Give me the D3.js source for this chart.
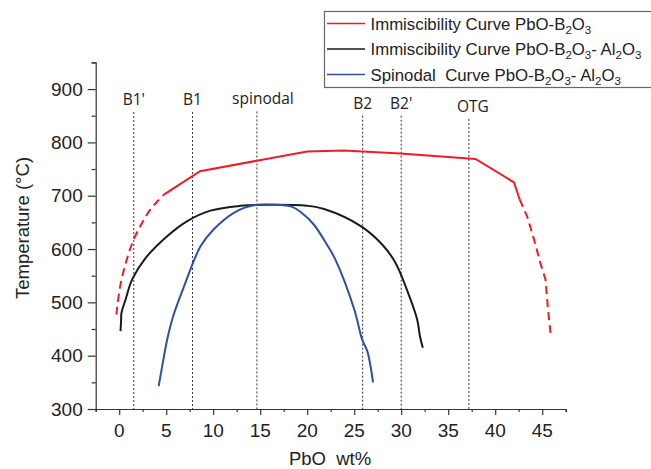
<!DOCTYPE html>
<html>
<head>
<meta charset="utf-8">
<script src="https://cdn.jsdelivr.net/npm/d3@7"></script>
<style>
  body { margin: 0; background: #fff; }
  svg { display: block; font-family: "Liberation Sans", Arial, sans-serif; }
</style>
</head>
<body>
<div id="vis"></div>
<script>
// ---- data (PbO wt%, temperature °C) ----
const redDashLeft = [[-0.3, 477], [0.1, 530], [0.8, 580], [1.55, 618], [2.4, 648], [3.3, 674], [4.1, 690], [4.75, 702]];
const redSolid = [[4.75, 702], [8.6, 746], [20, 783], [23.9, 785], [29.9, 779], [37.9, 769], [42, 725], [42.6, 693]];
const redDashRight = [[42.6, 693], [43.4, 661], [44.1, 620], [44.8, 574], [45.35, 543], [45.6, 490], [45.9, 440]];

const blackCurve = [[0.14, 446], [0.2, 465], [0.24, 480], [0.67, 505], [1.38, 543], [2.8, 583], [5.1, 624], [7.2, 652],
  [9.7, 672], [12.9, 681], [15.7, 683], [20, 681], [21.8, 675], [25.7, 643], [28, 608], [29.4, 574],
  [30.6, 524], [31.7, 468], [32, 436], [32.3, 415]];

const blueCurve = [[4.2, 343], [4.57, 380], [5.1, 430], [5.74, 474], [6.9, 530], [8.65, 605], [10.06, 637],
  [12.2, 668], [14.3, 682], [16.4, 683], [18.4, 679], [19.4, 668], [20.7, 646], [22.1, 608], [23, 580],
  [25, 487], [25.85, 430], [26.4, 408], [27, 350]];

const markerNames = ["B1'", "B1", "spinodal", "B2", "B2'", "OTG"];
const markerX = [1.55, 7.8, 14.65, 25.9, 30.0, 37.2];
const markerTop = [857, 857, 858, 850, 850, 844];

const xTicks = [0, 5, 10, 15, 20, 25, 30, 35, 40, 45];
const yTicks = [300, 400, 500, 600, 700, 800, 900];

const legendLabels = [
  ["Immiscibility Curve PbO-B", "2", "O", "3"],
  ["Immiscibility Curve PbO-B", "2", "O", "3", "- Al", "2", "O", "3"],
  ["Spinodal  Curve PbO-B", "2", "O", "3", "- Al", "2", "O", "3"]
];
const legendColors = ["#ee1c25", "#1a1a1a", "#2f4fa2"];

// ---- layout ----
const width = 651, height = 469;
const x = d3.scaleLinear().domain([-2.5, 47.5]).range([95.7, 565.7]);
const y = d3.scaleLinear().domain([300, 950]).range([409, 62.4]);

const svg = d3.select("#vis").append("svg")
  .attr("width", width)
  .attr("height", height);

// dotted marker lines
svg.append("g").selectAll("line")
  .data(markerX)
  .join("line")
  .attr("x1", d => x(d)).attr("x2", d => x(d))
  .attr("y1", (d, i) => y(markerTop[i]))
  .attr("y2", y(300))
  .attr("stroke", "#333")
  .attr("stroke-width", 1)
  .attr("stroke-dasharray", "2,2");

svg.append("g").selectAll("text")
  .data(markerNames)
  .join("text")
  .attr("x", (d, i) => x(markerX[i]) + (d === "spinodal" ? 6 : (d === "OTG" ? 4 : 0)))
  .attr("y", (d, i) => y(markerTop[i]) - 7)
  .attr("text-anchor", "middle")
  .attr("font-family", "'Open Sans', 'DejaVu Sans', sans-serif")
  .attr("font-size", 15.5)
  .attr("fill", "#222")
  .text(d => d);

// curves
const line = d3.line().x(d => x(d[0])).y(d => y(d[1]));
const smooth = d3.line().x(d => x(d[0])).y(d => y(d[1])).curve(d3.curveCatmullRom);

function path(data, gen, color, dash) {
  svg.append("path")
    .datum(data)
    .attr("d", gen)
    .attr("fill", "none")
    .attr("stroke", color)
    .attr("stroke-width", 2)
    .attr("stroke-dasharray", dash || null);
}
path(redDashLeft, smooth, legendColors[0], "8,5");
path(redSolid, line, legendColors[0]);
path(redDashRight, line, legendColors[0], "8,5");
path(blackCurve, smooth, legendColors[1]);
path(blueCurve, smooth, legendColors[2]);

// axes
const xAxis = svg.append("g").attr("transform", `translate(0,${y(300)})`);
xAxis.call(d3.axisBottom(x).tickValues(d3.range(-2.5, 47.6, 2.5)).tickSize(3).tickFormat(""));
xAxis.call(g => g.selectAll(".tick").filter(d => xTicks.includes(d)).select("line").attr("y2", 6));
xAxis.append("g").selectAll("text")
  .data(xTicks)
  .join("text")
  .attr("x", d => x(d))
  .attr("y", 28)
  .attr("text-anchor", "middle")
  .attr("fill", "#222")
  .attr("font-size", 19)
  .text(d => d);

const yAxis = svg.append("g").attr("transform", `translate(${x(-2.5)},0)`);
yAxis.call(d3.axisLeft(y).tickValues(d3.range(300, 951, 50)).tickSize(4).tickFormat(""));
yAxis.call(g => g.selectAll(".tick").filter(d => yTicks.includes(d)).select("line").attr("x2", -8));
yAxis.append("g").selectAll("text")
  .data(yTicks)
  .join("text")
  .attr("x", -13)
  .attr("y", d => y(d) + 6.5)
  .attr("text-anchor", "end")
  .attr("fill", "#222")
  .attr("font-size", 19)
  .text(d => d);

svg.selectAll(".domain, .tick line").attr("stroke", "#333").attr("stroke-width", 1.2);

// axis titles
svg.append("text")
  .attr("transform", `translate(29,228) rotate(-90)`)
  .attr("text-anchor", "middle")
  .attr("fill", "#222")
  .attr("font-size", 18.5)
  .text("Temperature (°C)");

svg.append("text")
  .attr("x", 330)
  .attr("y", 465)
  .attr("text-anchor", "middle")
  .attr("fill", "#222")
  .attr("font-size", 18.5)
  .attr("xml:space", "preserve")
  .style("white-space", "pre")
  .text("PbO  wt%");

// legend
const legend = svg.append("g");
legend.append("rect")
  .attr("x", 324.5).attr("y", 11.5)
  .attr("width", 340).attr("height", 76)
  .attr("fill", "#fff")
  .attr("stroke", "#666")
  .attr("stroke-width", 1.2);

legendLabels.forEach((parts, i) => {
  const yy = 23.5 + i * 25.5;
  legend.append("line")
    .attr("x1", 327).attr("x2", 365)
    .attr("y1", yy).attr("y2", yy)
    .attr("stroke", legendColors[i])
    .attr("stroke-width", 1.5);
  const t = legend.append("text")
    .attr("x", 370.5)
    .attr("y", yy + 6)
    .attr("fill", "#222")
    .attr("font-size", 16.8)
    .attr("xml:space", "preserve")
    .style("white-space", "pre");
  let prevSub = false;
  parts.forEach(p => {
    const sub = /^\d$/.test(p);
    const dy = sub && !prevSub ? 4 : (!sub && prevSub ? -4 : 0);
    t.append("tspan")
      .attr("dy", dy)
      .attr("font-size", sub ? 11.5 : 16.8)
      .text(p);
    prevSub = sub;
  });
});
</script>
</body>
</html>
